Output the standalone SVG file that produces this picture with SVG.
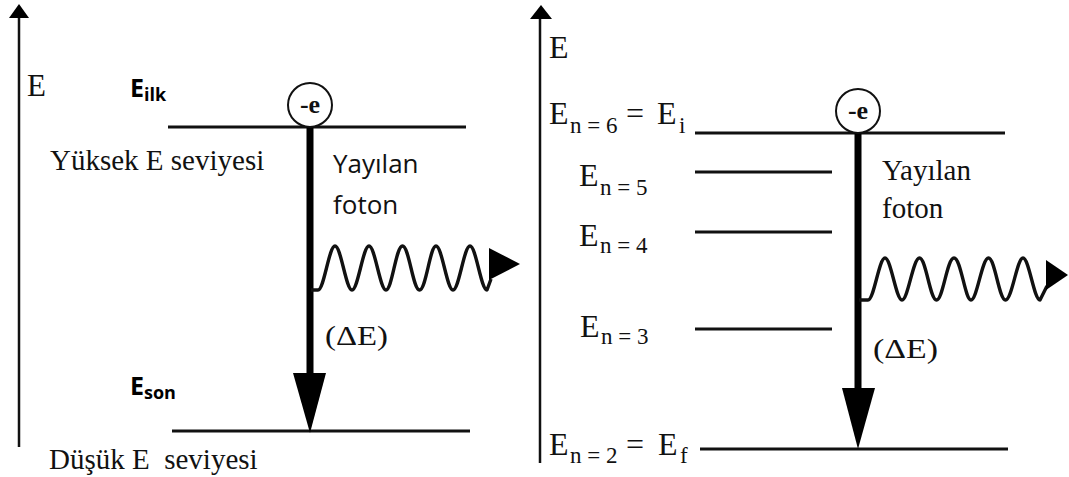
<svg xmlns="http://www.w3.org/2000/svg" width="1069" height="477" viewBox="0 0 1069 477">
<style>
.serif{font-family:"Liberation Serif","Times New Roman",serif;fill:#111}
.sans{font-family:"Open Sans","Liberation Sans",sans-serif;fill:#111}
.bold{font-family:"Open Sans","Liberation Sans",sans-serif;font-weight:bold;fill:#000}
.axis{stroke:#111;stroke-width:2.5;fill:none}
.lvl{stroke:#111;stroke-width:3;fill:none}
.thick{stroke:#000;stroke-width:7;fill:none}
.wave{stroke:#111;stroke-width:3.4;fill:none;stroke-linejoin:round}
.head{fill:#000}
.circ{fill:#fff;stroke:#111;stroke-width:2}
.el{font-family:"Liberation Serif","Times New Roman",serif;font-weight:bold;font-size:26px;fill:#111}
</style>
<rect width="1069" height="477" fill="#fff"/>

<!-- LEFT PANEL -->
<g id="left-axis">
  <line class="axis" x1="19" y1="14" x2="19" y2="447"/>
  <polygon class="head" points="19,4 29,18 9,18"/>
  <text class="serif" x="27" y="96" font-size="31">E</text>
</g>
<g id="left-level-high">
  <line class="lvl" x1="168" y1="127" x2="466" y2="127"/>
  <text class="bold" x="130" y="97" font-size="25">E<tspan font-size="18" dy="4">ilk</tspan></text>
  <text class="serif" x="50" y="170" font-size="29">Yüksek E seviyesi</text>
</g>
<g id="left-level-low">
  <line class="lvl" x1="172" y1="431" x2="470" y2="431"/>
  <text class="bold" x="130" y="395" font-size="25">E<tspan font-size="18" dy="4">son</tspan></text>
  <text class="serif" x="49" y="469" font-size="29" xml:space="preserve">Düşük E  seviyesi</text>
</g>
<g id="left-transition">
  <line class="thick" x1="310" y1="127" x2="310" y2="378"/>
  <polygon class="head" points="293,373 326,373 310,433"/>
  <path class="wave" d="M311,290 L318,290 C324,290 329,246 335,246 C341,246 346,290 352,290 C358,290 363,246 369,246 C375,246 380,290 386,290 C392,290 396,246 402.5,246 C409,246 413,290 419.5,290 C426,290 430,246 436,246 C442,246 447,290 453,290 C459,290 464,246 470,246 C476,246 481,290 487,290 L491,279"/>
  <polygon class="head" points="489,248 520,264 489,280"/>
  <text class="sans" x="333" y="173" font-size="26">Yayılan</text>
  <text class="sans" x="333" y="214" font-size="26">foton</text>
  <text class="serif" x="325" y="345" font-size="27" textLength="63" lengthAdjust="spacingAndGlyphs">(ΔE)</text>
</g>
<g id="left-electron">
  <circle class="circ" cx="310" cy="105" r="22"/>
  <text class="el" x="310" y="113" text-anchor="middle">-e</text>
</g>

<!-- RIGHT PANEL -->
<g id="right-axis">
  <line class="axis" x1="540" y1="14" x2="540" y2="463"/>
  <polygon class="head" points="541,5 552,19 530,19"/>
  <text class="serif" x="549" y="58" font-size="32">E</text>
</g>
<g id="level-n6">
  <line class="lvl" x1="695" y1="133" x2="1005" y2="133"/>
  <text class="serif" x="549" y="124" font-size="32">E</text>
  <text class="serif" x="570" y="133" font-size="23">n = 6</text>
  <text class="serif" x="626" y="124" font-size="32">=</text>
  <text class="serif" x="657" y="124" font-size="32">E</text>
  <text class="serif" x="679" y="133" font-size="23">i</text>
</g>
<g id="level-n5">
  <line class="lvl" x1="695" y1="172" x2="832" y2="172"/>
  <text class="serif" x="579" y="186" font-size="32">E</text>
  <text class="serif" x="600" y="195" font-size="23">n = 5</text>
</g>
<g id="level-n4">
  <line class="lvl" x1="695" y1="232" x2="832" y2="232"/>
  <text class="serif" x="579" y="246" font-size="32">E</text>
  <text class="serif" x="600" y="253" font-size="23">n = 4</text>
</g>
<g id="level-n3">
  <line class="lvl" x1="695" y1="329" x2="832" y2="329"/>
  <text class="serif" x="580" y="337" font-size="32">E</text>
  <text class="serif" x="601" y="344" font-size="23">n = 3</text>
</g>
<g id="level-n2">
  <line class="lvl" x1="700" y1="449" x2="1008" y2="449"/>
  <text class="serif" x="549" y="455" font-size="32">E</text>
  <text class="serif" x="570" y="463" font-size="23">n = 2</text>
  <text class="serif" x="626" y="455" font-size="32">=</text>
  <text class="serif" x="658" y="455" font-size="32">E</text>
  <text class="serif" x="680" y="463" font-size="23">f</text>
</g>
<g id="right-transition">
  <line class="thick" x1="858" y1="133" x2="858" y2="393"/>
  <polygon class="head" points="842,388 875,388 858,449"/>
  <path class="wave" d="M859,300 L868,300 C874,300 879,258 885,258 C891,258 896,300 902,300 C908,300 913,258 919.5,258 C926,258 930,300 936.5,300 C943,300 947,258 954,258 C961,258 965,300 971,300 C977,300 982,258 988.5,258 C995,258 999,300 1005.5,300 C1012,300 1017,258 1023,258 C1029,258 1034,300 1040,300 L1047,286"/>
  <polygon class="head" points="1046,260 1068,275 1046,290"/>
  <text class="serif" x="882" y="180" font-size="29">Yayılan</text>
  <text class="serif" x="882" y="218" font-size="29">foton</text>
  <text class="serif" x="873" y="358" font-size="28" textLength="65" lengthAdjust="spacingAndGlyphs">(ΔE)</text>
</g>
<g id="right-electron">
  <circle class="circ" cx="858" cy="111" r="22"/>
  <text class="el" x="858" y="119" text-anchor="middle">-e</text>
</g>
</svg>
